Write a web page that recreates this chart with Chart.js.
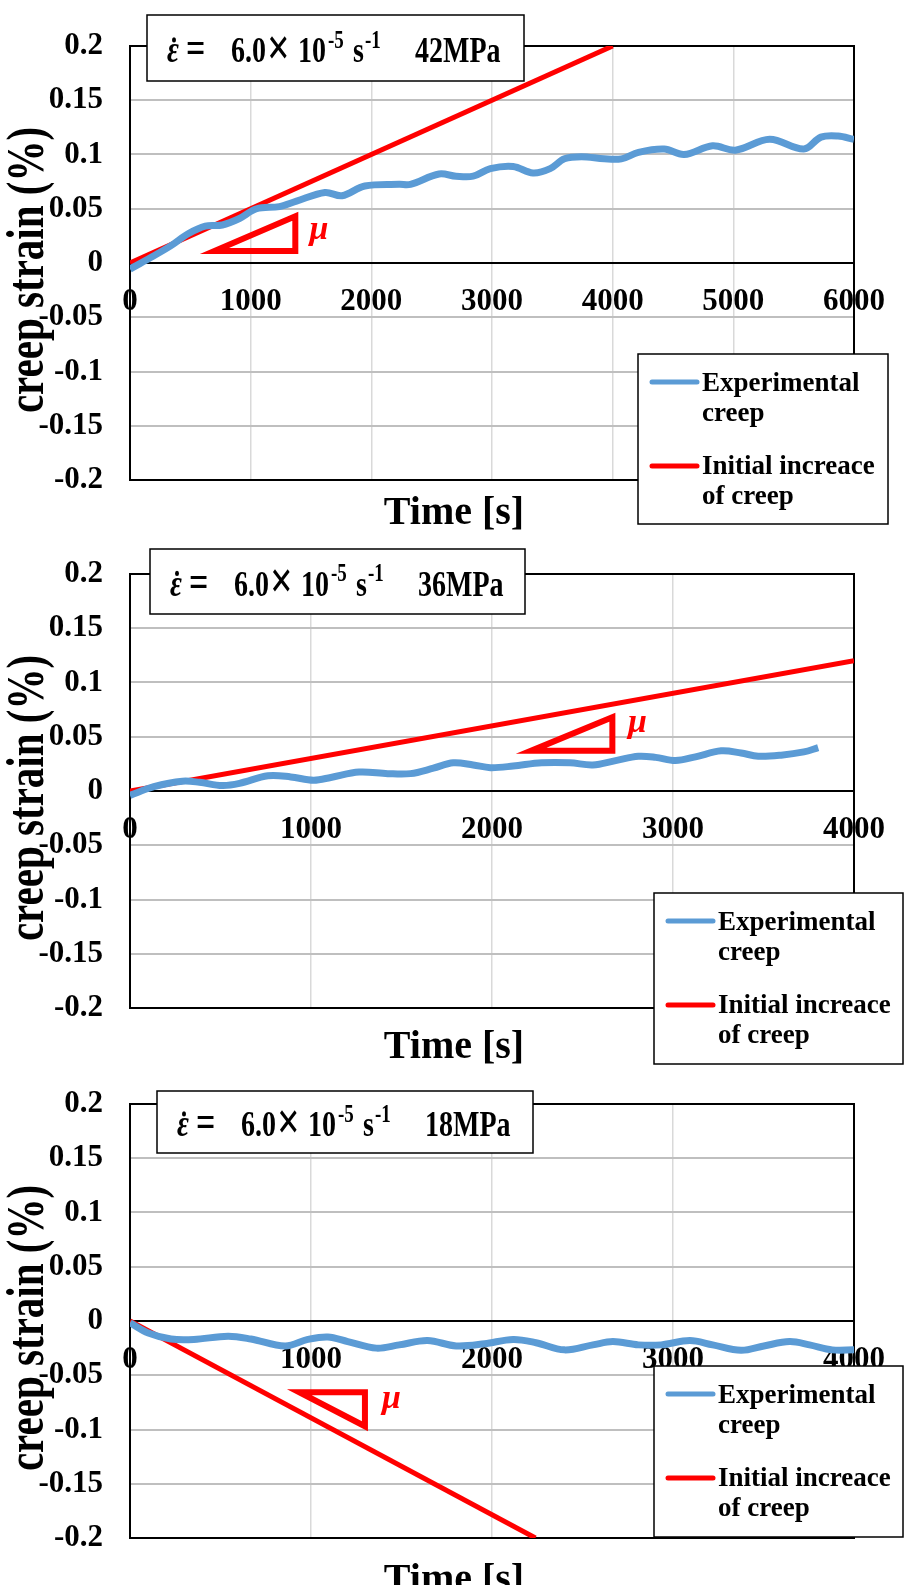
<!DOCTYPE html>
<html>
<head>
<meta charset="utf-8">
<script src="https://cdn.jsdelivr.net/npm/chart.js@4.4.0/dist/chart.umd.min.js"></script>
<style>
html, body { margin: 0; padding: 0; background: #fff; overflow: hidden; }
#wrap { position: relative; width: 905px; height: 1585px; overflow: hidden; }
.panel { position: absolute; left: 0; width: 905px; height: 560px; }
</style>
</head>
<body>
<div id="wrap">
  <div class="panel" style="top:0px"><canvas id="c1" width="905" height="560"></canvas></div>
  <div class="panel" style="top:528px"><canvas id="c2" width="905" height="560"></canvas></div>
  <div class="panel" style="top:1058px"><canvas id="c3" width="905" height="560"></canvas></div>
</div>
<script>
// 42MPa
const time42 = [0, 151, 340, 482, 624, 765, 907, 1049, 1238, 1380, 1616, 1757, 1946, 2230, 2324, 2561, 2702, 2844, 2986, 3175, 3340, 3482, 3600, 3742, 3931, 4072, 4214, 4427, 4592, 4828, 5017, 5301, 5584, 5726, 5868, 6000];
const creep42 = [-0.0056, 0.0037, 0.016, 0.027, 0.034, 0.035, 0.041, 0.050, 0.052, 0.057, 0.065, 0.062, 0.071, 0.0725, 0.0725, 0.082, 0.080, 0.080, 0.087, 0.089, 0.083, 0.087, 0.096, 0.098, 0.096, 0.096, 0.102, 0.105, 0.100, 0.108, 0.104, 0.114, 0.105, 0.116, 0.117, 0.114];
const initTime42 = [0, 4000];
const initStrain42 = [0, 0.2];
const triTime42 = [700, 1370, 1370, 700, 1370];
const triStrain42 = [0.011, 0.011, 0.043, 0.011, 0.011];

// 36MPa
const time36 = [0, 132, 290, 384, 510, 605, 762, 888, 1014, 1109, 1266, 1424, 1550, 1676, 1786, 1896, 1991, 2117, 2274, 2431, 2557, 2683, 2809, 2904, 3014, 3124, 3266, 3376, 3471, 3597, 3723, 3802];
const creep36 = [-0.004, 0.004, 0.009, 0.008, 0.005, 0.007, 0.014, 0.013, 0.010, 0.0125, 0.0175, 0.016, 0.016, 0.021, 0.026, 0.024, 0.0215, 0.023, 0.026, 0.026, 0.024, 0.028, 0.032, 0.031, 0.028, 0.0315, 0.037, 0.035, 0.032, 0.033, 0.036, 0.040];
const initTime36 = [0, 4000];
const initStrain36 = [0, 0.12];
const triTime36 = [2215, 2665, 2665, 2215, 2665];
const triStrain36 = [0.037, 0.037, 0.068, 0.037, 0.037];

// 18MPa
const time18 = [0, 101, 227, 353, 542, 668, 857, 983, 1093, 1203, 1361, 1487, 1644, 1802, 1959, 2117, 2243, 2400, 2557, 2668, 2809, 2935, 3093, 3219, 3376, 3502, 3644, 3754, 3880, 4000];
const creep18 = [-0.0016, -0.011, -0.0166, -0.017, -0.014, -0.0166, -0.023, -0.017, -0.0147, -0.019, -0.025, -0.022, -0.018, -0.023, -0.021, -0.017, -0.020, -0.0266, -0.022, -0.019, -0.022, -0.022, -0.018, -0.022, -0.027, -0.023, -0.019, -0.022, -0.0266, -0.0266];
const initTime18 = [0, 2240];
const initStrain18 = [0, -0.2];
const triTime18 = [935, 1298, 1298, 935, 1298];
const triStrain18 = [-0.0656, -0.0656, -0.097, -0.0656, -0.0656];

const yTicks = [-0.2, -0.15, -0.1, -0.05, 0, 0.05, 0.1, 0.15, 0.2];
const seriesNames = [['Experimental', 'creep'], ['Initial increace', 'of creep']];

const BLUE = '#5b9bd5';
const RED = '#ff0000';
const SERIF = '"Liberation Serif", "Times New Roman", serif';

function pts(xs, ys) {
    return xs.map((x, i) => ({x: x, y: ys[i]}));
}

const decor = {
    id: 'decor',
    beforeDatasetsDraw(chart) {
        const ca = chart.chartArea, ctx = chart.ctx;
        ctx.save();
        ctx.strokeStyle = '#000';
        ctx.lineWidth = 2;
        ctx.strokeRect(ca.left, ca.top, ca.right - ca.left, ca.bottom - ca.top);
        ctx.restore();
    },
    afterDraw(chart, args, o) {
        const ctx = chart.ctx, ca = chart.chartArea;
        const xs = chart.scales.x, ys = chart.scales.y;
        ctx.save();
        ctx.fillStyle = '#000';
        ctx.textBaseline = 'alphabetic';

        // axis titles
        ctx.font = 'bold 40px ' + SERIF;
        ctx.textAlign = 'center';
        ctx.fillText('Time [s]', 454, o.xTitleY);
        ctx.save();
        ctx.translate(43, (ca.top + ca.bottom) / 2 + 7);
        ctx.rotate(-Math.PI / 2);
        ctx.scale(1, 1.3);
        ctx.font = 'bold 41px ' + SERIF;
        ctx.fillText('creep strain (%)', 0, 0);
        ctx.restore();

        // mu
        ctx.fillStyle = RED;
        ctx.textAlign = 'left';
        ctx.font = 'italic bold 34px ' + SERIF;
        ctx.fillText('\u03bc', xs.getPixelForValue(o.mu[0]), ys.getPixelForValue(o.mu[1]));

        // equation box
        const b = o.eqBox;
        ctx.fillStyle = '#fff';
        ctx.fillRect(b[0], b[1], b[2], b[3]);
        ctx.strokeStyle = '#000';
        ctx.lineWidth = 1.5;
        ctx.strokeRect(b[0], b[1], b[2], b[3]);
        ctx.fillStyle = '#000';
        ctx.save();
        ctx.translate(b[0], b[1] + b[3] / 2 + 14);
        ctx.scale(1, 1.3);
        const big = 'bold 28px ' + SERIF, sm = 'bold 19px ' + SERIF;
        ctx.font = 'italic bold 29px ' + SERIF;
        ctx.fillText('\u03b5', 20, 0);
        ctx.beginPath();
        ctx.arc(27, -17, 2, 0, Math.PI * 2);
        ctx.fill();
        ctx.font = 'bold 34px ' + SERIF;
        ctx.fillText('=', 39, 0);
        ctx.font = 'bold 40px ' + SERIF;
        ctx.fillText('\u00d7', 120, 2);
        ctx.font = big;
        ctx.fillText('6.0', 84, 0);
        ctx.fillText('10', 151, 0);
        ctx.fillText('s', 206, 0);
        ctx.fillText(o.stress, 268, 0);
        ctx.font = sm;
        ctx.fillText('-5', 181, -11);
        ctx.fillText('-1', 218, -11);
        ctx.restore();

        // legend
        const g = o.legendBox;
        ctx.fillStyle = '#fff';
        ctx.fillRect(g[0], g[1], g[2], g[3]);
        ctx.strokeStyle = '#000';
        ctx.lineWidth = 1.5;
        ctx.strokeRect(g[0], g[1], g[2], g[3]);
        const cols = [BLUE, RED];
        const rows = [[28, 37, 67], [112, 120, 150]];
        ctx.lineCap = 'round';
        ctx.lineWidth = 5;
        ctx.font = 'bold 27px ' + SERIF;
        for (let i = 0; i < 2; i++) {
            ctx.strokeStyle = cols[i];
            ctx.beginPath();
            ctx.moveTo(g[0] + 14, g[1] + rows[i][0]);
            ctx.lineTo(g[0] + 59, g[1] + rows[i][0]);
            ctx.stroke();
            ctx.fillStyle = '#000';
            ctx.fillText(seriesNames[i][0], g[0] + 64, g[1] + rows[i][1]);
            ctx.fillText(seriesNames[i][1], g[0] + 64, g[1] + rows[i][2]);
        }
        ctx.restore();
    }
};

function makeChart(id, exp, init, tri, xmax, deco) {
    const config = {
        type: 'line',
        data: {
            datasets: [{
                label: seriesNames[0].join(' '),
                data: exp,
                borderColor: BLUE,
                borderWidth: 7,
                pointRadius: 0,
                tension: 0.35,
                fill: false
            }, {
                label: seriesNames[1].join(' '),
                data: init,
                borderColor: RED,
                borderWidth: 5,
                pointRadius: 0,
                fill: false
            }, {
                label: 'slope',
                data: tri,
                borderColor: RED,
                borderWidth: 6,
                borderJoinStyle: 'miter',
                pointRadius: 0,
                tension: 0,
                fill: false
            }]
        },
        options: {
            responsive: false,
            animation: false,
            layout: {padding: {left: 0, right: 41, top: 46, bottom: 80}},
            plugins: {
                legend: {display: false},
                tooltip: {enabled: false},
                decor: deco
            },
            scales: {
                x: {
                    type: 'linear',
                    position: {y: 0},
                    min: 0,
                    max: xmax,
                    ticks: {
                        stepSize: 1000,
                        padding: 20,
                        color: '#000',
                        font: {family: SERIF, size: 31, weight: 'bold'},
                        maxRotation: 0,
                        callback: v => String(v)
                    },
                    grid: {color: '#d9d9d9', lineWidth: 1.5, drawTicks: false},
                    border: {color: '#000', width: 2}
                },
                y: {
                    type: 'linear',
                    min: yTicks[0],
                    max: yTicks[yTicks.length - 1],
                    afterFit: s => { s.width = 130; },
                    afterBuildTicks: s => { s.ticks = yTicks.map(v => ({value: v})); },
                    ticks: {
                        padding: 27,
                        color: '#000',
                        font: {family: SERIF, size: 31, weight: 'bold'},
                        callback: v => String(Math.round(v * 100) / 100)
                    },
                    grid: {
                        color: c => c.tick && c.tick.value === 0 ? '#000' : '#bfbfbf',
                        lineWidth: 2,
                        drawTicks: false
                    },
                    border: {color: '#000', width: 2}
                }
            }
        },
        plugins: [decor]
    };
    return new Chart(document.getElementById(id).getContext('2d'), config);
}

makeChart('c1', pts(time42, creep42), pts(initTime42, initStrain42), pts(triTime42, triStrain42), 6000,
    {stress: '42MPa', eqBox: [147, 15, 377, 66], legendBox: [638, 354, 250, 170], xTitleY: 524, mu: [1488, 0.0217]});
makeChart('c2', pts(time36, creep36), pts(initTime36, initStrain36), pts(triTime36, triStrain36), 4000,
    {stress: '36MPa', eqBox: [150, 21, 375, 65], legendBox: [654, 365, 249, 171], xTitleY: 530, mu: [2752, 0.054]});
makeChart('c3', pts(time18, creep18), pts(initTime18, initStrain18), pts(triTime18, triStrain18), 4000,
    {stress: '18MPa', eqBox: [157, 33, 376, 62], legendBox: [654, 308, 249, 171], xTitleY: 533, mu: [1392, -0.080]});
</script>
</body>
</html>
